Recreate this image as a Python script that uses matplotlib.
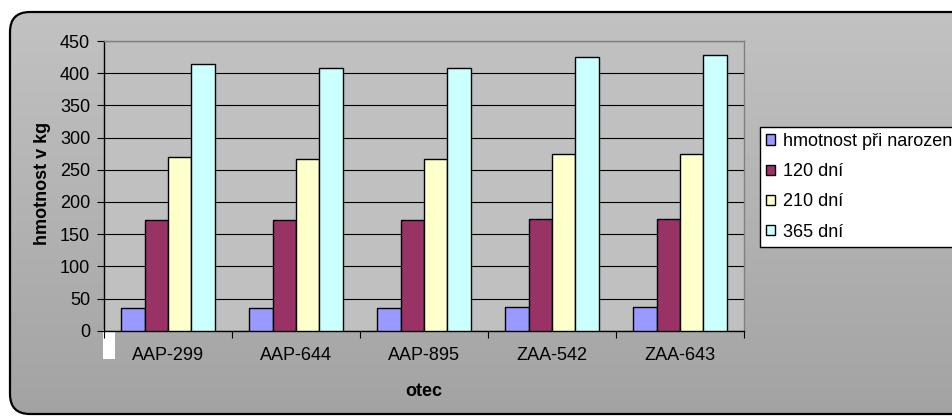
import numpy as np
import matplotlib
matplotlib.use("Agg")
import matplotlib.pyplot as plt
from matplotlib.patches import FancyBboxPatch, Rectangle, Patch

plt.rcParams["font.family"] = ["Liberation Sans", "DejaVu Sans"]

# --- data ---
sires = ["AAP-299", "AAP-644", "AAP-895", "ZAA-542", "ZAA-643"]
series_names = ["hmotnost při narození", "120 dní", "210 dní", "365 dní"]
birth_weight = [35, 35, 35, 37, 37]
weight_120 = [172, 172, 172, 174, 174]
weight_210 = [270, 267, 267, 274, 274]
weight_365 = [415, 408, 408, 426, 428]
series_colors = ["#9999FF", "#993366", "#FFFFCC", "#CCFFFF"]
y_ticks = [0, 50, 100, 150, 200, 250, 300, 350, 400, 450]

W, H = 953, 416
fig = plt.figure(figsize=(W / 100, H / 100), dpi=100)
fig.patch.set_facecolor("white")

# --- chart area: rounded frame with grey vertical gradient ---
bg = fig.add_axes([0, 0, 1, 1])
bg.set_xlim(0, W)
bg.set_ylim(H, 0)
bg.axis("off")
frame = FancyBboxPatch((10, 12), 1000, 402, boxstyle="round,pad=0,rounding_size=20",
                       facecolor="none", edgecolor="black", linewidth=1.6, zorder=3)
bg.add_patch(frame)
grad = np.linspace(194, 163, 256)[:, None] / 255.0
img = bg.imshow(np.dstack([grad, grad, grad]), extent=(0, W, H, 12), aspect="auto",
                interpolation="bilinear", zorder=1)
clip = FancyBboxPatch((10, 12), 1000, 402, boxstyle="round,pad=0,rounding_size=20",
                      facecolor="none", edgecolor="none", transform=bg.transData)
img.set_clip_path(clip)
bg.set_xlim(0, W)
bg.set_ylim(H, 0)

# --- plot area ---
left, right, top, bottom = 104, 744, 41.1, 330.7
ax = fig.add_axes([left / W, 1 - bottom / H, (right - left) / W, (bottom - top) / H])
ax.set_facecolor("#C0C0C0")

x = np.arange(len(sires))
bw = 0.183
all_series = [birth_weight, weight_120, weight_210, weight_365]
for i, (vals, col) in enumerate(zip(all_series, series_colors)):
    ax.bar(x + (i - 1.5) * bw, vals, width=bw, color=col, edgecolor="black",
           linewidth=1.0, zorder=3)

ax.set_xlim(-0.5, len(sires) - 0.5)
ax.set_ylim(0, 450)
ax.set_yticks(y_ticks)
ax.set_yticklabels([str(t) for t in y_ticks], fontsize=13)
ax.yaxis.grid(True, color="black", linewidth=0.8, zorder=1)
ax.set_axisbelow(True)

ax.set_xticks(np.arange(-0.5, len(sires), 1.0))
ax.set_xticklabels([])
ax.set_xticks(x, minor=True)
ax.set_xticklabels(sires, minor=True, fontsize=13)
ax.tick_params(axis="x", which="major", direction="out", length=5, width=0.8, color="black")
ax.tick_params(axis="x", which="minor", length=0, pad=11.5)
ax.tick_params(axis="y", direction="out", length=5, width=0.8, pad=5, color="black")

for s in ("top", "right"):
    ax.spines[s].set_color("#808080")
    ax.spines[s].set_linewidth(1.0)
for s in ("left", "bottom"):
    ax.spines[s].set_color("black")
    ax.spines[s].set_linewidth(1.0)

# axis titles
fig.text(43 / W, 1 - 183 / H, "hmotnost v kg", rotation=90, ha="center", va="center",
         fontsize=13, fontweight="bold")
fig.text(424 / W, 1 - 396 / H, "otec", ha="center", va="baseline",
         fontsize=13, fontweight="bold")

# small white block below the axis corner
bg.add_patch(Rectangle((103, 330), 12, 29, facecolor="white", edgecolor="none", zorder=5))

# legend (runs past the right edge of the chart area)
handles = [Patch(facecolor=c, edgecolor="black", linewidth=1.0) for c in series_colors]
leg = fig.legend(handles, series_names, loc="upper left",
                 bbox_to_anchor=(760 / W, 1 - 126.7 / H), borderaxespad=0,
                 frameon=True, fancybox=False, framealpha=1, facecolor="white",
                 edgecolor="black", fontsize=13, handlelength=0.5, handleheight=0.5,
                 handletextpad=0.4, labelspacing=0.73, borderpad=0.35)
leg.get_frame().set_linewidth(1.0)

fig.savefig("out.png", dpi=100)
